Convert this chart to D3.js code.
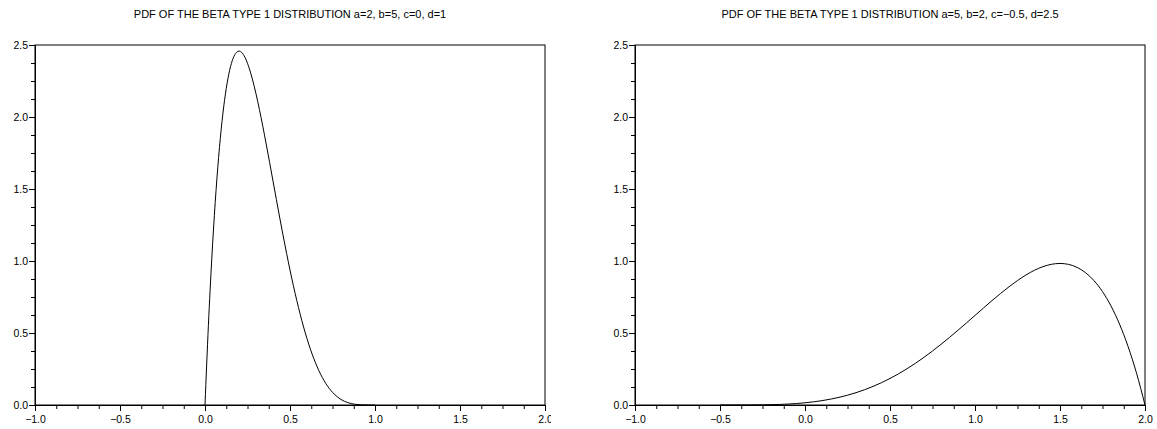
<!DOCTYPE html>
<html>
<head>
<meta charset="utf-8">
<script src="https://cdn.jsdelivr.net/npm/d3@7"></script>
<style>
  html, body { margin: 0; padding: 0; background: #fff; }
  svg { display: block; }
</style>
</head>
<body>
<svg id="chart" width="1157" height="429"></svg>
<script>
// ---- Data ----
const leftTitle = "PDF OF THE BETA TYPE 1 DISTRIBUTION a=2, b=5, c=0, d=1";
const rightTitle = "PDF OF THE BETA TYPE 1 DISTRIBUTION a=5, b=2, c=\u22120.5, d=2.5";

const xMajorTicks = [-1.0, -0.5, 0.0, 0.5, 1.0, 1.5, 2.0];
const yMajorTicks = [0.0, 0.5, 1.0, 1.5, 2.0, 2.5];
const xDomain = [-1, 2];
const yDomain = [0, 2.5];

const leftX = [0.00,0.02,0.04,0.06,0.08,0.10,0.12,0.14,0.16,0.18,0.20,0.22,0.24,0.26,0.28,0.30,0.32,0.34,0.36,0.38,0.40,0.42,0.44,0.46,0.48,0.50,0.52,0.54,0.56,0.58,0.60,0.62,0.64,0.66,0.68,0.70,0.72,0.74,0.76,0.78,0.80,0.82,0.84,0.86,0.88,0.90,0.92,0.94,0.96,0.98,1.00];
const leftY = [0,0.5534,1.0192,1.4053,1.7193,1.9683,2.1589,2.2975,2.3898,2.4414,2.4576,2.4430,2.4021,2.3390,2.2574,2.1609,2.0526,1.9354,1.8119,1.6845,1.5552,1.4259,1.2981,1.1734,1.0529,0.9375,0.8281,0.7253,0.6297,0.5415,0.4608,0.3878,0.3225,0.2646,0.2139,0.1701,0.1328,0.1014,0.0757,0.0548,0.0384,0.0258,0.0165,0.0099,0.0055,0.0027,0.0011,0.0004,0.0001,0,0];

const rightX = [-0.50,-0.45,-0.40,-0.35,-0.30,-0.25,-0.20,-0.15,-0.10,-0.05,0.00,0.05,0.10,0.15,0.20,0.25,0.30,0.35,0.40,0.45,0.50,0.55,0.60,0.65,0.70,0.75,0.80,0.85,0.90,0.95,1.00,1.05,1.10,1.15,1.20,1.25,1.30,1.35,1.40,1.45,1.50,1.55,1.60,1.65,1.70,1.75,1.80,1.85,1.90,1.95,2.00];
const rightY = [0,0,0.00003,0.00015,0.00045,0.00108,0.00219,0.00396,0.00661,0.01033,0.01536,0.02193,0.03026,0.04058,0.05311,0.06804,0.08556,0.10584,0.12900,0.15513,0.18432,0.21657,0.25187,0.29014,0.33125,0.375,0.42115,0.46937,0.51926,0.57035,0.62208,0.67380,0.72478,0.77417,0.82104,0.86436,0.90296,0.93558,0.96083,0.97720,0.98304,0.97658,0.95591,0.91897,0.86356,0.78732,0.68774,0.56214,0.40769,0.22137,0];

// ---- Drawing ----
const svg = d3.select("#chart");
const fontFamily = "Liberation Sans, Arial, Helvetica, sans-serif";
const titleSize = "11px";
const tickSize = "10.5px";

function minorValues(domain, step) {
  const out = [];
  const n = Math.round((domain[1] - domain[0]) / step);
  for (let i = 0; i <= n; i++) out.push(domain[0] + i * step);
  return out;
}

function drawPanel(opts) {
  const g = svg.append("g");
  const clipId = "clip" + opts.id;
  svg.append("defs").append("clipPath").attr("id", clipId)
    .append("rect").attr("x", opts.clip[0]).attr("y", 0)
    .attr("width", opts.clip[1] - opts.clip[0]).attr("height", 429);
  g.attr("clip-path", `url(#${clipId})`);

  const x = d3.scaleLinear().domain(xDomain).range([opts.left, opts.right]);
  const y = d3.scaleLinear().domain(yDomain).range([opts.bottom, opts.top]);

  // title
  g.append("text")
    .attr("x", (opts.left + opts.right) / 2)
    .attr("y", 18)
    .attr("text-anchor", "middle")
    .attr("font-family", fontFamily)
    .attr("font-size", titleSize)
    .attr("fill", "#000")
    .text(opts.title);

  // frame
  g.append("rect")
    .attr("x", opts.left).attr("y", opts.top)
    .attr("width", opts.right - opts.left).attr("height", opts.bottom - opts.top)
    .attr("fill", "none").attr("stroke", "#000").attr("stroke-width", 1);

  const fmt = d3.format(".1f");

  // x axis minor ticks
  const xMinor = minorValues(xDomain, 0.125).filter(v => !xMajorTicks.some(m => Math.abs(m - v) < 1e-9));
  g.append("g").attr("transform", `translate(0,${opts.bottom})`)
    .call(d3.axisBottom(x).tickValues(xMinor).tickSize(4).tickFormat(""))
    .call(a => a.select(".domain").remove());
  // x axis major
  g.append("g").attr("transform", `translate(0,${opts.bottom})`)
    .call(d3.axisBottom(x).tickValues(xMajorTicks).tickSize(6).tickSizeOuter(0).tickPadding(5).tickFormat(fmt))
    .call(a => a.selectAll("text").attr("font-family", fontFamily).attr("font-size", tickSize).attr("fill", "#000"));

  // y axis minor
  const yMinor = minorValues(yDomain, 0.125).filter(v => !yMajorTicks.some(m => Math.abs(m - v) < 1e-9));
  g.append("g").attr("transform", `translate(${opts.left},0)`)
    .call(d3.axisLeft(y).tickValues(yMinor).tickSize(4).tickFormat(""))
    .call(a => a.select(".domain").remove());
  // y axis major
  g.append("g").attr("transform", `translate(${opts.left},0)`)
    .call(d3.axisLeft(y).tickValues(yMajorTicks).tickSize(6).tickSizeOuter(0).tickPadding(1).tickFormat(fmt))
    .call(a => a.selectAll("text").attr("font-family", fontFamily).attr("font-size", tickSize).attr("fill", "#000"));

  // curve
  const pts = opts.xs.map((v, i) => [v, opts.ys[i]]);
  g.append("path")
    .datum(pts)
    .attr("fill", "none")
    .attr("stroke", "#000")
    .attr("stroke-width", 1)
    .attr("d", d3.line().x(d => x(d[0])).y(d => y(d[1])).curve(d3.curveMonotoneX));
}

drawPanel({ id: "L", left: 35, right: 545, top: 45, bottom: 405, clip: [0, 551],
  title: leftTitle, xs: leftX, ys: leftY });
drawPanel({ id: "R", left: 635, right: 1145, top: 45, bottom: 405, clip: [578, 1157],
  title: rightTitle, xs: rightX, ys: rightY });
</script>
</body>
</html>
